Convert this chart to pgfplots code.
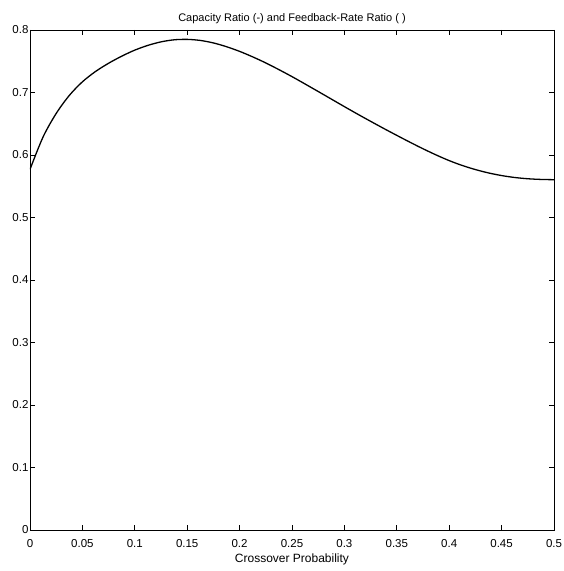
\documentclass[border=0pt]{standalone}
\usepackage{fontspec}
\setmainfont{Liberation Sans}
\usepackage{pgfplots}
\pgfplotsset{compat=1.18}
\begin{document}
\begin{tikzpicture}
% page: 30pt left of the axis, 9pt right, 41pt below, 30pt above
\useasboundingbox (-30pt,-41pt) rectangle (533pt,530pt);
\begin{axis}[
  at={(0,0)}, anchor=south west,
  width=524pt, height=500pt, scale only axis,
  xmin=0, xmax=0.5, ymin=0, ymax=0.8,
  xtick={0,0.05,0.1,0.15,0.2,0.25,0.3,0.35,0.4,0.45,0.5},
  ytick={0,0.1,0.2,0.3,0.4,0.5,0.6,0.7,0.8},
  tick align=inside, major tick length=5pt,
  tick style={black, line width=0.6pt},
  axis line style={black, line width=0.8pt},
  /pgf/number format/assume math mode=true,
  /pgf/number format/fixed, /pgf/number format/precision=2,
  ticklabel style={font=\fontsize{11.5}{13}\selectfont},
  xticklabel style={yshift=-6pt},
  yticklabel style={xshift=2pt},
  title={Capacity Ratio (-) and Feedback-Rate Ratio ( )},
  title style={font=\fontsize{11}{13}\selectfont, yshift=-3pt},
  xlabel={Crossover Probability},
  xlabel style={font=\fontsize{12}{14}\selectfont, yshift=1pt},
]
\addplot[black, line width=1.3pt, smooth] coordinates {
(0.0000,0.5770) (0.0125,0.6290) (0.0250,0.6665) (0.0375,0.6953)
(0.0500,0.7171) (0.0625,0.7336) (0.0750,0.7468) (0.0875,0.7581)
(0.1000,0.7678) (0.1125,0.7754) (0.1250,0.7810) (0.1375,0.7843)
(0.1500,0.7850) (0.1625,0.7833) (0.1750,0.7793) (0.1875,0.7733)
(0.2000,0.7658) (0.2125,0.7570) (0.2250,0.7473) (0.2375,0.7366)
(0.2500,0.7254) (0.2625,0.7136) (0.2750,0.7016) (0.2875,0.6895)
(0.3000,0.6774) (0.3125,0.6655) (0.3250,0.6539) (0.3375,0.6425)
(0.3500,0.6314) (0.3625,0.6205) (0.3750,0.6100) (0.3875,0.6001)
(0.4000,0.5910) (0.4125,0.5832) (0.4250,0.5767) (0.4375,0.5713)
(0.4500,0.5671) (0.4625,0.5640) (0.4750,0.5620) (0.4875,0.5609)
(0.5000,0.5605)
};
\end{axis}
\end{tikzpicture}
\end{document}
